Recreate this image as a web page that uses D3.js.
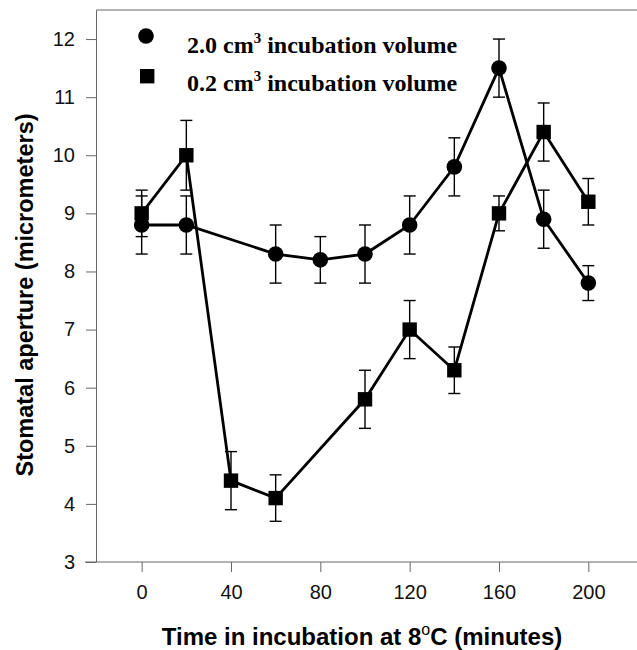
<!DOCTYPE html>
<html>
<head>
<meta charset="utf-8">
<script src="https://cdn.jsdelivr.net/npm/d3@7"></script>
<style>
  body { margin: 0; background: #fff; }
  svg { display: block; }
</style>
</head>
<body>
<div id="chart"></div>
<script>
// data
const minutes2 = [0, 20, 60, 80, 100, 120, 140, 160, 180, 200]
const aperture2 = [8.8, 8.8, 8.3, 8.2, 8.3, 8.8, 9.8, 11.5, 8.9, 7.8]
const err2 = [0.5, 0.5, 0.5, 0.4, 0.5, 0.5, 0.5, 0.5, 0.5, 0.3]

const minutes02 = [0, 20, 40, 60, 100, 120, 140, 160, 180, 200]
const aperture02 = [9.0, 10.0, 4.4, 4.1, 5.8, 7.0, 6.3, 9.0, 10.4, 9.2]
const err02 = [0.4, 0.6, 0.5, 0.4, 0.5, 0.5, 0.4, 0.3, 0.5, 0.4]

const xTicks = [0, 40, 80, 120, 160, 200]
const yTicks = [3, 4, 5, 6, 7, 8, 9, 10, 11, 12]

const width = 637,
height = 650,
plotLeft = 96,
plotTop = 10,
plotBottom = 562

const svg = d3.select('#chart')
.append('svg')
.attr('width', width)
.attr('height', height)

const x = d3.scaleLinear()
.domain([-20, 220])
.range([97, 633])

const y = d3.scaleLinear()
.domain([3, 12.5])
.range([plotBottom, plotTop])

const axisColor = '#666'

// y axis
const yAxis = svg.append('g')
.attr('transform', `translate(${plotLeft},0)`)
.call(d3.axisLeft(y).tickValues(yTicks).tickSize(10).tickSizeOuter(0).tickPadding(11))
yAxis.select('.domain').attr('stroke', axisColor)
yAxis.selectAll('.tick line').attr('stroke', axisColor)
yAxis.selectAll('text')
.attr('font-family', 'Liberation Sans, Arial, sans-serif')
.attr('font-size', 20)
.attr('fill', '#111')

// x axis
const xAxis = svg.append('g')
.attr('transform', `translate(0,${plotBottom})`)
.call(d3.axisBottom(x).tickValues(xTicks).tickSize(10).tickSizeOuter(0).tickPadding(13))
xAxis.select('.domain').remove()
xAxis.selectAll('.tick line').attr('stroke', axisColor)
xAxis.selectAll('text')
.attr('font-family', 'Liberation Sans, Arial, sans-serif')
.attr('font-size', 20)
.attr('fill', '#111')

// frame lines: bottom and top
svg.append('line')
.attr('x1', plotLeft - 11).attr('x2', width)
.attr('y1', plotBottom).attr('y2', plotBottom)
.attr('stroke', axisColor)
svg.append('line')
.attr('x1', plotLeft).attr('x2', width)
.attr('y1', plotTop).attr('y2', plotTop)
.attr('stroke', axisColor)

// axis titles
svg.append('text')
.attr('transform', `translate(33,${(plotTop + plotBottom) / 2 + 9}) rotate(-90)`)
.attr('text-anchor', 'middle')
.attr('font-family', 'Liberation Sans, Arial, sans-serif')
.attr('font-weight', 'bold')
.attr('font-size', 23.5)
.text('Stomatal aperture (micrometers)')

const xTitle = svg.append('text')
.attr('x', 362)
.attr('y', 645)
.attr('text-anchor', 'middle')
.attr('font-family', 'Liberation Sans, Arial, sans-serif')
.attr('font-weight', 'bold')
.attr('font-size', 24)
xTitle.append('tspan').text('Time in incubation at 8')
xTitle.append('tspan').attr('dy', -10).attr('font-size', 16).attr('font-weight', 'normal').text('o')
xTitle.append('tspan').attr('dy', 10).text('C (minutes)')

// series
const toPoints = (xs, ys, es) => xs.map((d, i) => ({ x: d, y: ys[i], e: es[i] }))
const series = [
  { name: '2.0', shape: 'circle', points: toPoints(minutes2, aperture2, err2) },
  { name: '0.2', shape: 'square', points: toPoints(minutes02, aperture02, err02) }
]

const line = d3.line()
.x(d => x(d.x))
.y(d => y(d.y))

series.forEach(s => {
  const g = svg.append('g')

  // error bars
  const eb = g.selectAll('.err')
  .data(s.points)
  .enter()
  .append('g')
  .attr('stroke', '#000')
  .attr('stroke-width', 1.4)
  eb.append('line')
  .attr('x1', d => x(d.x)).attr('x2', d => x(d.x))
  .attr('y1', d => y(d.y - d.e)).attr('y2', d => y(d.y + d.e))
  eb.append('line')
  .attr('x1', d => x(d.x) - 6).attr('x2', d => x(d.x) + 6)
  .attr('y1', d => y(d.y + d.e)).attr('y2', d => y(d.y + d.e))
  eb.append('line')
  .attr('x1', d => x(d.x) - 6).attr('x2', d => x(d.x) + 6)
  .attr('y1', d => y(d.y - d.e)).attr('y2', d => y(d.y - d.e))

  g.append('path')
  .datum(s.points)
  .attr('fill', 'none')
  .attr('stroke', '#000')
  .attr('stroke-width', 2.8)
  .attr('d', line)

  if (s.shape === 'circle') {
    g.selectAll('circle')
    .data(s.points)
    .enter()
    .append('circle')
    .attr('cx', d => x(d.x))
    .attr('cy', d => y(d.y))
    .attr('r', 7.8)
    .attr('fill', '#000')
  } else {
    g.selectAll('rect')
    .data(s.points)
    .enter()
    .append('rect')
    .attr('x', d => x(d.x) - 7.2)
    .attr('y', d => y(d.y) - 7.2)
    .attr('width', 14.4)
    .attr('height', 14.4)
    .attr('fill', '#000')
  }
})

// legend
const legend = svg.append('g')
legend.append('circle')
.attr('cx', 146).attr('cy', 36).attr('r', 7.8).attr('fill', '#000')
legend.append('rect')
.attr('x', 140).attr('y', 69).attr('width', 14.4).attr('height', 14.4).attr('fill', '#000')

const legendRows = [
  { y: 53, label: '2.0 cm' },
  { y: 91, label: '0.2 cm' }
]
legendRows.forEach(r => {
  const t = legend.append('text')
  .attr('x', 187)
  .attr('y', r.y)
  .attr('font-family', 'Liberation Serif, Times New Roman, serif')
  .attr('font-weight', 'bold')
  .attr('font-size', 24)
  t.append('tspan').text(r.label)
  t.append('tspan').attr('dy', -10).attr('font-size', 15).text('3')
  t.append('tspan').attr('dy', 10).text(' incubation volume')
})
</script>
</body>
</html>
